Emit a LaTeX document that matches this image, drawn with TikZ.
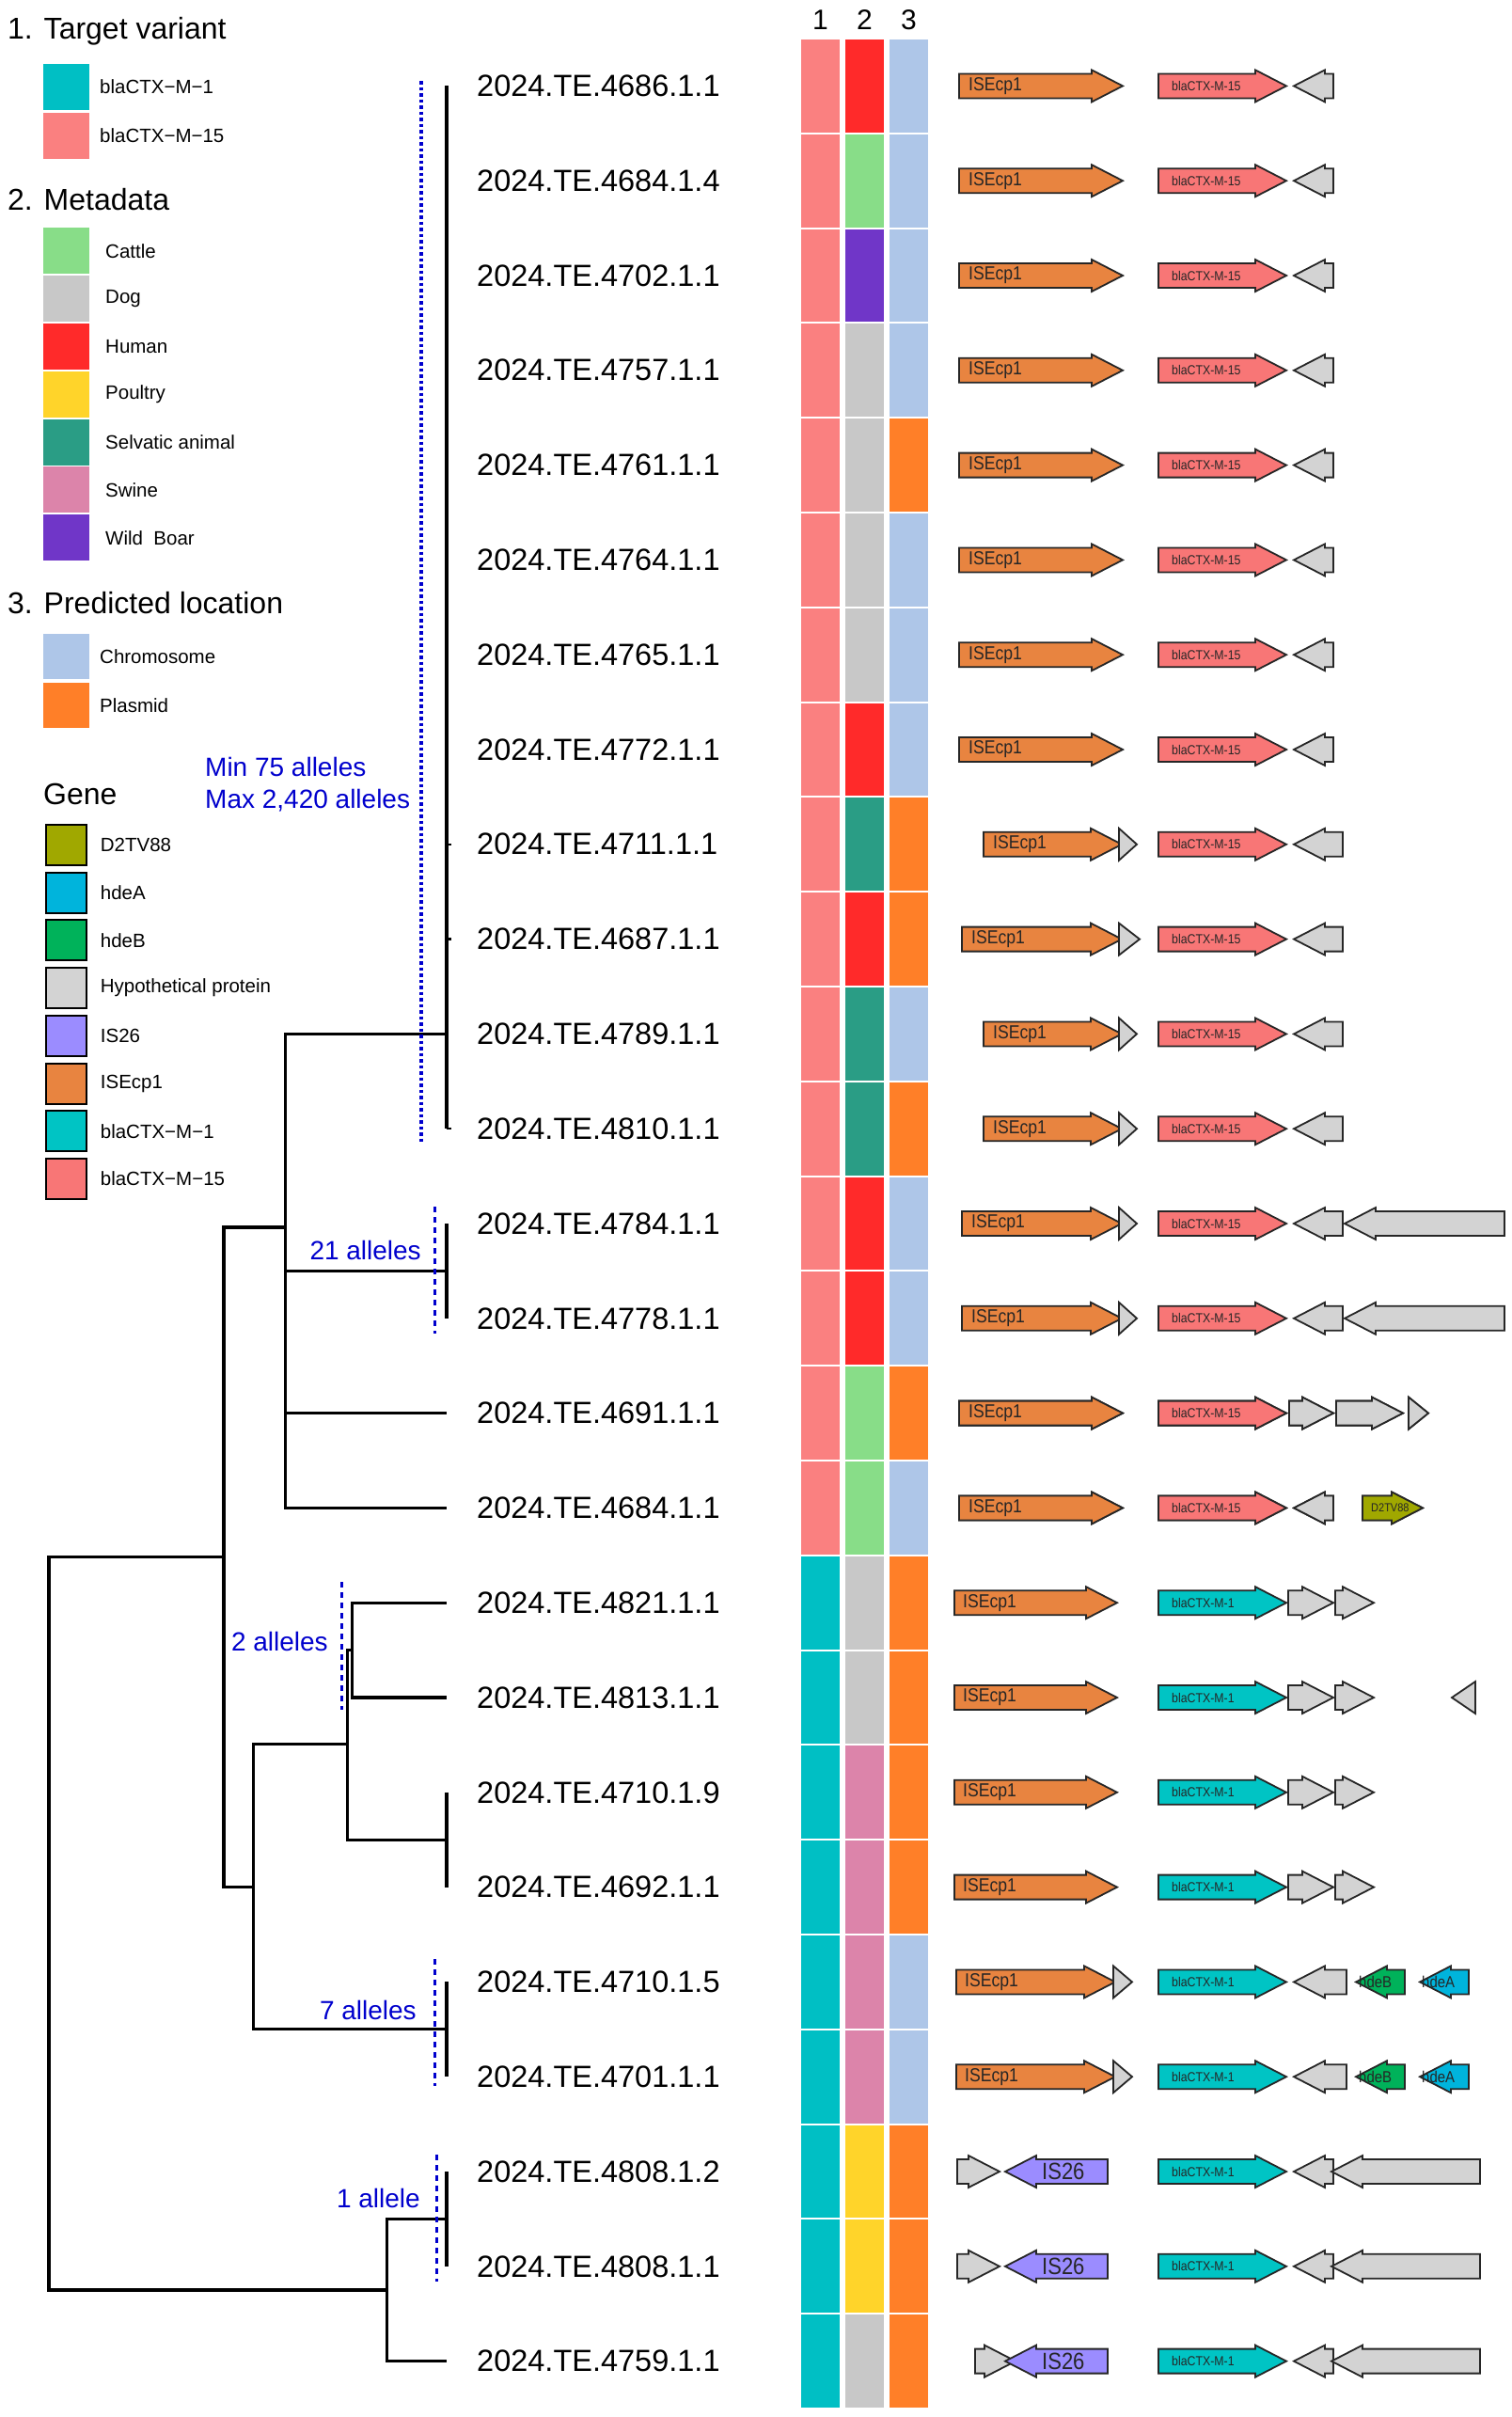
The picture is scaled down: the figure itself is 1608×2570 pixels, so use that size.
\documentclass[tikz,border=0pt]{standalone}
\usepackage{fontspec}
\setmainfont{Liberation Sans}
\newfontfamily\narrowfont[FakeStretch=0.88]{Liberation Sans}
\definecolor{ctxone}{RGB}{0,191,196}
\definecolor{ctxfif}{RGB}{250,128,128}
\definecolor{cattle}{RGB}{136,221,136}
\definecolor{dog}{RGB}{200,200,200}
\definecolor{human}{RGB}{255,42,42}
\definecolor{poultry}{RGB}{255,212,42}
\definecolor{selvatic}{RGB}{42,157,133}
\definecolor{swine}{RGB}{220,132,170}
\definecolor{boar}{RGB}{112,54,200}
\definecolor{chrom}{RGB}{174,198,232}
\definecolor{plasmid}{RGB}{255,127,40}
\definecolor{dtv}{RGB}{160,168,0}
\definecolor{hdea}{RGB}{0,180,220}
\definecolor{hdeb}{RGB}{0,178,90}
\definecolor{hypo}{RGB}{211,211,211}
\definecolor{ists}{RGB}{155,140,255}
\definecolor{isecp}{RGB}{232,132,64}
\definecolor{gctxone}{RGB}{0,196,196}
\definecolor{gctxfif}{RGB}{248,118,118}
\definecolor{allelblue}{RGB}{0,0,205}
\pgfmathdeclarefunction{ry}{1}{\pgfmathparse{100.8*#1-9.4}}
% gene arrow: start, end, row, fill
\newcommand\gene[4]{%
  \pgfmathsetmacro\gy{ry(#3)}%
  \pgfmathsetmacro\gd{ifthenelse(#2>#1,1,-1)}%
  \pgfmathsetmacro\gb{#2-\gd*min(33,abs(#2-#1))}%
  \draw[genebox,fill=#4] (#1,\gy-13)--(\gb,\gy-13)--(\gb,\gy-17)--(#2,\gy)
    --(\gb,\gy+17)--(\gb,\gy+13)--(#1,\gy+13)--cycle;}
\tikzset{
  branch/.style={line width=3.2},
  cutline/.style={draw=allelblue,line width=3,dash pattern=on 6 off 5},
  cuttext/.style={text=allelblue,anchor=east,inner sep=0,font=\fontsize{28}{34}\selectfont},
  leaf/.style={anchor=west,inner sep=0,font=\fontsize{32.5}{39}\selectfont},
  title/.style={anchor=west,inner sep=0,font=\fontsize{32}{38}\selectfont},
  key/.style={anchor=west,inner sep=0,font=\fontsize{20.5}{25}\selectfont},
  genebox/.style={draw=black!85,line width=1.8,line join=miter},
  islab/.style={anchor=west,inner sep=0,text=black!85,font=\narrowfont\fontsize{20}{24}\selectfont},
  ctxlab/.style={anchor=west,inner sep=0,text=black!85,font=\narrowfont\fontsize{14}{17}\selectfont},
  hdelab/.style={anchor=west,inner sep=0,text=black!85,font=\narrowfont\fontsize{17}{20}\selectfont},
}
\begin{document}
\begin{tikzpicture}[x=1pt,y=-1pt]
\useasboundingbox (0,0) rectangle (1608,2570);
\fill[white] (0,0) rectangle (1608,2570);
%legend
\node[title] (tv) at (8,33) {1. Target variant};
\fill[ctxone] (46,68) rectangle (95,117);
\node[key] (tv1) at (106,92) {blaCTX−M−1};
\fill[ctxfif] (46,119.5) rectangle (95,168.5);
\node[key] (tv2) at (106,144) {blaCTX−M−15};
\node[title] (md) at (8,212) {2. Metadata};
\foreach \c/\t [count=\k from 0] in {cattle/Cattle,dog/Dog,human/Human,poultry/Poultry,selvatic/Selvatic animal,swine/Swine,boar/Wild~ Boar}{
  \fill[\c] (46,242.4+50.8*\k) rectangle (95,291.4+50.8*\k);
  \node[key] (md\k) at (112,266.9+50.8*\k) {\t};
}
\node[title] (pl) at (8,641) {3. Predicted location};
\fill[chrom] (46,674) rectangle (95,722);
\node[key] (pl1) at (106,698) {Chromosome};
\fill[plasmid] (46,726) rectangle (95,774);
\node[key] (pl2) at (106,750) {Plasmid};
\node[title] (gn) at (46,844) {Gene};
\foreach \c/\t [count=\k from 0] in {dtv/D2TV88,hdea/hdeA,hdeb/hdeB,hypo/Hypothetical protein,ists/IS26,isecp/ISEcp1,gctxone/blaCTX−M−1,gctxfif/blaCTX−M−15}{
  \draw[fill=\c,line width=2] (49,877+50.7*\k) rectangle (92,920+50.7*\k);
  \node[key] (gn\k) at (106.7,898.5+50.7*\k) {\t};
}
%tree
\foreach \r in {1,...,25} \coordinate (t\r) at (475,{ry(\r)});
\coordinate (root) at (52,2045);
\coordinate (n1) at (238,1655.8);
\coordinate (n2) at (303.5,1305);
\coordinate (n3) at (269.6,2006.6);
\coordinate (n4) at (369.4,1854.5);
\coordinate (n5) at (374.5,{ry(17.5)});
\coordinate (n6) at (411.4,2435);
\coordinate (c1) at (475,{ry(11)});
\coordinate (c2) at (475,{ry(13.5)});
\coordinate (p1) at (475,{ry(19.5)});
\coordinate (p2) at (475,{ry(21.5)});
\coordinate (p3) at (475,{ry(23.5)});
\draw[branch] (root)|-(n1) (root)|-(n6) (n1)|-(n2) (n1)|-(n3)
  (n2)|-(c1) (n2)|-(c2) (n2)|-(t15) (n2)|-(t16)
  (n3)|-(n4) (n3)|-(p2) (n4)|-(n5) (n4)|-(p1)
  (n5)|-(t17) (n5)|-(t18) (n6)|-(p3) (n6)|-(t25);
\draw[branch] (t1)--(t12) (t13)--(t14) (t19)--(t20) (t21)--(t22) (t23)--(t24);
\foreach \r in {9,10,12} \draw[line width=2.5] (t\r)--++(5,0);
%allele cut-offs
\draw[cutline,line width=4,dash pattern=on 3.5 off 3] (447.5,86)--(447.5,1216);
\draw[cutline] (462,1283)--(462,1418);
\draw[cutline] (363,1682)--(363,1818);
\draw[cutline] (462,2083)--(462,2218);
\draw[cutline] (464,2291)--(464,2426);
\node[cuttext,anchor=west] (amin) at (218,815) {Min 75 alleles};
\node[cuttext,anchor=west] (amax) at (218,851) {Max 2,420 alleles};
\node[cuttext] (a21) at (448,1329) {21 alleles};
\node[cuttext] (a2) at (349,1745) {2 alleles};
\node[cuttext] (a7) at (443,2137) {7 alleles};
\node[cuttext] (a1) at (447,2337) {1 allele};
%sample labels
\foreach \t [count=\r] in {2024.TE.4686.1.1,2024.TE.4684.1.4,2024.TE.4702.1.1,2024.TE.4757.1.1,
  2024.TE.4761.1.1,2024.TE.4764.1.1,2024.TE.4765.1.1,2024.TE.4772.1.1,2024.TE.4711.1.1,
  2024.TE.4687.1.1,2024.TE.4789.1.1,2024.TE.4810.1.1,2024.TE.4784.1.1,2024.TE.4778.1.1,
  2024.TE.4691.1.1,2024.TE.4684.1.1,2024.TE.4821.1.1,2024.TE.4813.1.1,2024.TE.4710.1.9,
  2024.TE.4692.1.1,2024.TE.4710.1.5,2024.TE.4701.1.1,2024.TE.4808.1.2,2024.TE.4808.1.1,
  2024.TE.4759.1.1}
  \node[leaf] (s\r) at (507,{ry(\r)}) {\t};
%heatmap
\foreach \t/\x in {1/872.5,2/919.5,3/966.5} \node[font=\fontsize{30}{36}\selectfont] (h\t) at (\x,21) {\t};
\foreach \c [count=\r] in {ctxfif,ctxfif,ctxfif,ctxfif,ctxfif,ctxfif,ctxfif,ctxfif,ctxfif,ctxfif,ctxfif,ctxfif,
  ctxfif,ctxfif,ctxfif,ctxfif,ctxone,ctxone,ctxone,ctxone,ctxone,ctxone,ctxone,ctxone,ctxone}
  \fill[\c] (852,{ry(\r)-49.4}) rectangle (893,{ry(\r)+49.4});
\foreach \c [count=\r] in {human,cattle,boar,dog,dog,dog,dog,human,selvatic,human,selvatic,selvatic,
  human,human,cattle,cattle,dog,dog,swine,swine,swine,swine,poultry,poultry,dog}
  \fill[\c] (899,{ry(\r)-49.4}) rectangle (940,{ry(\r)+49.4});
\foreach \c [count=\r] in {chrom,chrom,chrom,chrom,plasmid,chrom,chrom,chrom,plasmid,plasmid,chrom,plasmid,
  chrom,chrom,plasmid,chrom,plasmid,plasmid,plasmid,plasmid,chrom,chrom,plasmid,plasmid,plasmid}
  \fill[\c] (946,{ry(\r)-49.4}) rectangle (987,{ry(\r)+49.4});
%genes
\foreach \r in {1,...,8}{
  \gene{1020}{1194}{\r}{isecp}
  \gene{1232}{1368}{\r}{gctxfif}
  \gene{1418}{1376}{\r}{hypo}
  \node[islab] (is\r) at (1030,{ry(\r)}) {ISEcp1};
  \node[ctxlab] (bla\r) at (1246,{ry(\r)}) {blaCTX-M-15};
}
\foreach \r/\s/\e in {9/1046/1209,10/1023/1212,11/1046/1209,12/1046/1209,13/1023/1209,14/1023/1209}{
  \gene{\s}{1193}{\r}{isecp}
  \gene{1190}{\e}{\r}{hypo}
  \gene{1232}{1368}{\r}{gctxfif}
  \gene{1428}{1376}{\r}{hypo}
  \node[islab] (is\r) at (\s+10,{ry(\r)}) {ISEcp1};
  \node[ctxlab] (bla\r) at (1246,{ry(\r)}) {blaCTX-M-15};
}
\foreach \r in {13,14} \gene{1600}{1430}{\r}{hypo}
\foreach \r in {15,16}{
  \gene{1020}{1194}{\r}{isecp}
  \gene{1232}{1368}{\r}{gctxfif}
  \node[islab] (is\r) at (1030,{ry(\r)}) {ISEcp1};
  \node[ctxlab] (bla\r) at (1246,{ry(\r)}) {blaCTX-M-15};
}
\gene{1371}{1418}{15}{hypo}
\gene{1421}{1492}{15}{hypo}
\gene{1498}{1519}{15}{hypo}
\gene{1418}{1376}{16}{hypo}
\gene{1449}{1513}{16}{dtv}
\node[anchor=west,inner sep=0,text=black!85,font=\narrowfont\fontsize{12.5}{15}\selectfont] (dtv16) at (1458,{ry(16)}) {D2TV88};
\foreach \r in {17,...,20}{
  \gene{1015}{1188}{\r}{isecp}
  \gene{1232}{1368}{\r}{gctxone}
  \gene{1370}{1418}{\r}{hypo}
  \gene{1420}{1461}{\r}{hypo}
  \node[islab] (is\r) at (1024,{ry(\r)}) {ISEcp1};
  \node[ctxlab] (bla\r) at (1246,{ry(\r)}) {blaCTX-M-1};
}
\gene{1569}{1544}{18}{hypo}
\foreach \r in {21,22}{
  \gene{1017}{1186}{\r}{isecp}
  \gene{1184}{1204}{\r}{hypo}
  \gene{1232}{1368}{\r}{gctxone}
  \gene{1432}{1376}{\r}{hypo}
  \gene{1494}{1442}{\r}{hdeb}
  \gene{1562}{1510}{\r}{hdea}
  \node[islab] (is\r) at (1026,{ry(\r)}) {ISEcp1};
  \node[ctxlab] (bla\r) at (1246,{ry(\r)}) {blaCTX-M-1};
  \node[hdelab] (hb\r) at (1445,{ry(\r)}) {hdeB};
  \node[hdelab] (ha\r) at (1512,{ry(\r)}) {hdeA};
}
\foreach \r/\s/\e in {23/1018/1063,24/1018/1063,25/1037/1080}{
  \gene{\s}{\e}{\r}{hypo}
  \gene{1178}{1069}{\r}{ists}
  \gene{1232}{1368}{\r}{gctxone}
  \gene{1418}{1376}{\r}{hypo}
  \gene{1574}{1416}{\r}{hypo}
  \node[anchor=west,inner sep=0,text=black!85,font=\narrowfont\fontsize{25}{30}\selectfont] (ist\r) at (1108,{ry(\r)}) {IS26};
  \node[ctxlab] (bla\r) at (1246,{ry(\r)}) {blaCTX-M-1};
}
\end{tikzpicture}
\end{document}
